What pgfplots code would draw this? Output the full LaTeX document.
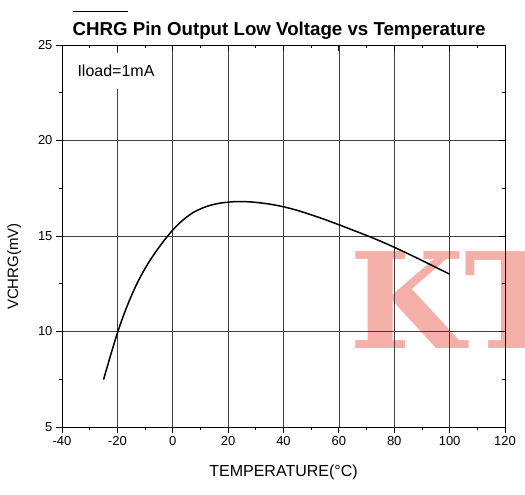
\documentclass[border=0pt]{standalone}
\usepackage{fontspec}
\setmainfont{Liberation Sans}
\newfontfamily\wmfont{DejaVu Serif}
\usepackage{pgfplots}
\pgfplotsset{compat=1.18}
\definecolor{wm}{RGB}{244,176,168}
\newcommand\ovl[1]{\leavevmode\vbox{\hrule height 1.2pt \kern 10pt\hbox{#1}}}
\begin{document}
\begin{tikzpicture}[x=1pt,y=1pt]
\useasboundingbox (0,0) rectangle (525,495);
\node[anchor=base west, inner sep=0, text=wm, font=\wmfont\bfseries\fontsize{133}{133}\selectfont] at (349,146) {KT};
\pgfplotsset{
  common/.style={at={(62pt,68pt)}, anchor=south west, scale only axis,
    width=443pt, height=382pt, xmin=-40, xmax=120, ymin=5, ymax=25,
    xtick={-40,-20,...,120}, ytick={5,10,...,25},
    minor x tick num=1, minor y tick num=1,
    major tick length=6pt, minor tick length=3.5pt,
    axis line style={line width=0.8pt}, every tick/.style={black, line width=0.8pt}}
}
\begin{axis}[common, tick align=outside, xtick pos=left, ytick pos=left,
  grid=major, major grid style={black!75, line width=0.7pt},
  /pgf/number format/assume math mode=true,
  ticklabel style={font=\fontsize{13}{13}\selectfont},
  xlabel={TEMPERATURE(°C)}, ylabel={VCHRG(mV)},
  xlabel style={font=\fontsize{16}{16}\selectfont, at={(axis description cs:0.5,-0.118)}, anchor=center},
  ylabel style={font=\fontsize{15}{15}\selectfont, at={(axis description cs:-0.108,0.42)}, anchor=center}]
\addplot[black, line width=1.5pt, smooth] coordinates {
(-25,7.48) (-22.5,8.73) (-20,9.92) (-17.5,10.95) (-15,11.85) (-12.5,12.63) (-10,13.3) (-7.5,13.88) (-5,14.4) (-2.5,14.88) (0,15.31) (2.5,15.68) (5,15.99) (7.5,16.24) (10,16.42) (12.5,16.56) (15,16.66) (17.5,16.73) (20,16.77) (22.5,16.8) (25,16.8) (27.5,16.79) (30,16.76) (35,16.67) (40,16.53) (45,16.34) (50,16.11) (55,15.86) (60,15.59) (65,15.31) (70,15.03) (75,14.73) (80,14.41) (85,14.07) (90,13.72) (95,13.36) (100,13.0)
};
\end{axis}
\begin{axis}[common, tick align=inside, xtick pos=right, ytick pos=right, xticklabels={}, yticklabels={}]
\end{axis}
\node[fill=white, inner xsep=6pt, minimum height=36pt, font=\fontsize{16}{16}\selectfont] at (116,424) {Iload=1mA};
\node[font=\bfseries\fontsize{18.7}{18.7}\selectfont] at (279,470) {\ovl{CHRG} Pin Output Low Voltage vs Temperature};
\end{tikzpicture}
\end{document}
